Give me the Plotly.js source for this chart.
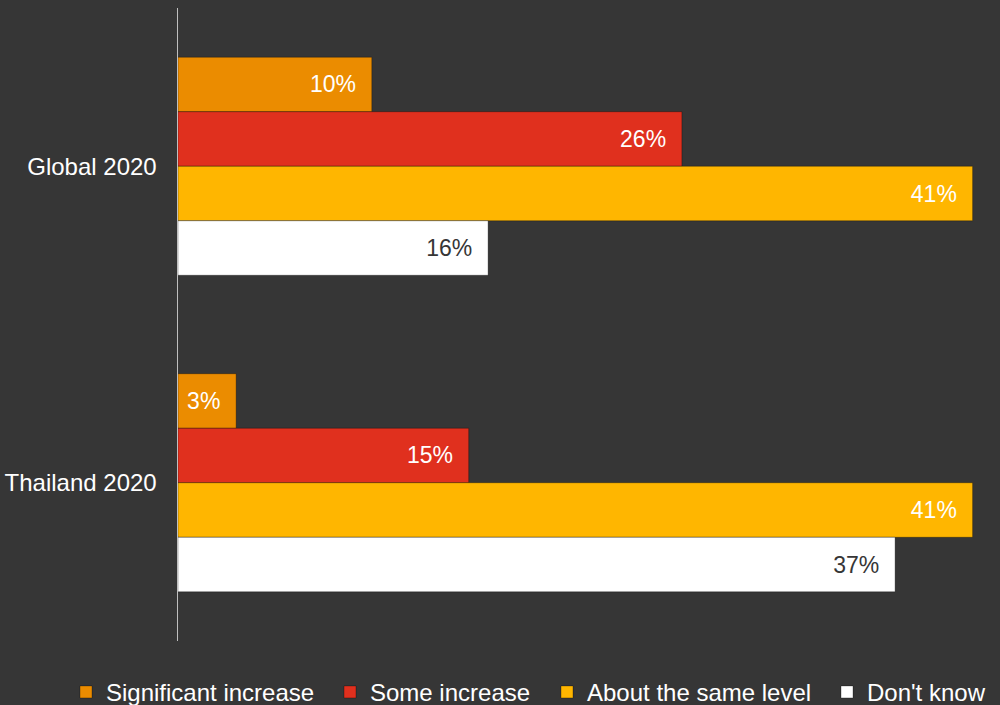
<!DOCTYPE html>
<html>
<head>
<meta charset="utf-8">
<script src="https://cdn.plot.ly/plotly-3.0.1.min.js"></script>
<style>
  html, body { margin: 0; padding: 0; background: #363636; }
  #chart { width: 1000px; height: 705px; }
</style>
</head>
<body>
<div id="chart"></div>
<script>
const categories = ["Global 2020", "Thailand 2020"];
const seriesNames = ["Significant increase", "Some increase", "About the same level", "Don't know"];
const significantIncrease = [10, 3];
const someIncrease = [26, 15];
const aboutSameLevel = [41, 41];
const dontKnow = [16, 37];

const seriesValues = [significantIncrease, someIncrease, aboutSameLevel, dontKnow];
const colors = ["#EB8C00", "#E0301E", "#FFB600", "#FFFFFF"];
const textColors = ["#FFFFFF", "#FFFFFF", "#FFFFFF", "#363636"];
// legend placement (container fraction of width) for each legend entry
const legendX = [0.066, 0.330, 0.547, 0.827];
const legendIds = ["legend", "legend2", "legend3", "legend4"];

const FONT = "Liberation Sans, Arial, sans-serif";

const traces = seriesValues.map((vals, i) => ({
  type: "bar",
  orientation: "h",
  name: seriesNames[i],
  legend: legendIds[i],
  y: categories,
  x: vals,
  marker: { color: colors[i], line: { color: "rgba(0,0,0,0.3)", width: 1 } },
  text: vals.map(v => v + "%\u00a0\u00a0"),
  textposition: "inside",
  insidetextanchor: "end",
  textfont: { family: FONT, size: 23, color: textColors[i] },
  constraintext: "none",
  hoverinfo: "skip"
}));

const layout = {
  width: 1000,
  height: 705,
  paper_bgcolor: "#363636",
  plot_bgcolor: "#363636",
  font: { family: FONT, size: 24, color: "#FFFFFF" },
  margin: { l: 178, r: 8, t: 8, b: 64, autoexpand: false },
  barmode: "group",
  bargap: 0.311,
  bargroupgap: 0,
  showlegend: true,
  xaxis: {
    range: [0, 42],
    showgrid: false,
    zeroline: false,
    showticklabels: false,
    showline: false,
    fixedrange: true
  },
  yaxis: {
    autorange: "reversed",
    showgrid: false,
    zeroline: false,
    showline: true,
    linecolor: "#BFBFBF",
    linewidth: 1.5,
    ticks: "",
    ticklabelstandoff: 15,
    tickfont: { family: FONT, size: 24, color: "#FFFFFF" },
    fixedrange: true
  }
};

legendIds.forEach((id, i) => {
  layout[id] = {
    orientation: "h",
    xref: "container",
    yref: "container",
    x: legendX[i],
    xanchor: "left",
    y: 0.018,
    yanchor: "middle",
    font: { family: FONT, size: 24, color: "#FFFFFF" },
    bgcolor: "rgba(0,0,0,0)",
    borderwidth: 0
  };
});

Plotly.newPlot("chart", traces, layout, { staticPlot: true, displayModeBar: false });
</script>
</body>
</html>
